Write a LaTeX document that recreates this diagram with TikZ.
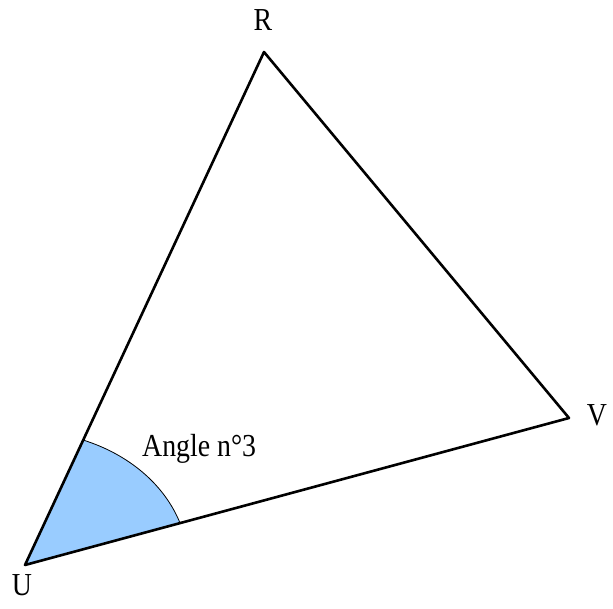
\documentclass[tikz,border=0pt]{standalone}
\usepackage{fontspec}
\setmainfont{Liberation Serif}
\usetikzlibrary{positioning}
\definecolor{angleBlue}{HTML}{99CCFF}

\begin{document}
\begin{tikzpicture}[x=1pt,y=1pt,line cap=round,line join=round]
\tikzset{side/.style={draw=black,line width=2.6pt},arcline/.style={draw=black,line width=0.8pt},lbl/.style={font=\fontsize{32}{34}\selectfont,inner sep=0pt,xscale=0.87,anchor=base}}
\useasboundingbox (0,0) rectangle (613,608);
\coordinate (U) at (25,43);
\coordinate (R) at (264,556);
\coordinate (V) at (569,190);
\coordinate (arcV) at (180,85);
% angle at U
\fill[angleBlue] (U) -- (arcV) arc[start angle=18.3,end angle=69.2,x radius=163.3,y radius=133.7] -- cycle;
\draw[arcline] (arcV) arc[start angle=18.3,end angle=69.2,x radius=163.3,y radius=133.7];
\draw[side] (U) -- (R) -- (V) -- cycle;
\node[lbl] (labR) at (263,577) {R};
\node[lbl] (labV) at (597,182) {V};
\node[lbl] (labU) at (22,13) {U};
\node[lbl,anchor=base west] (labAngle) at (142,151) {Angle n°3};
\end{tikzpicture}
\end{document}
